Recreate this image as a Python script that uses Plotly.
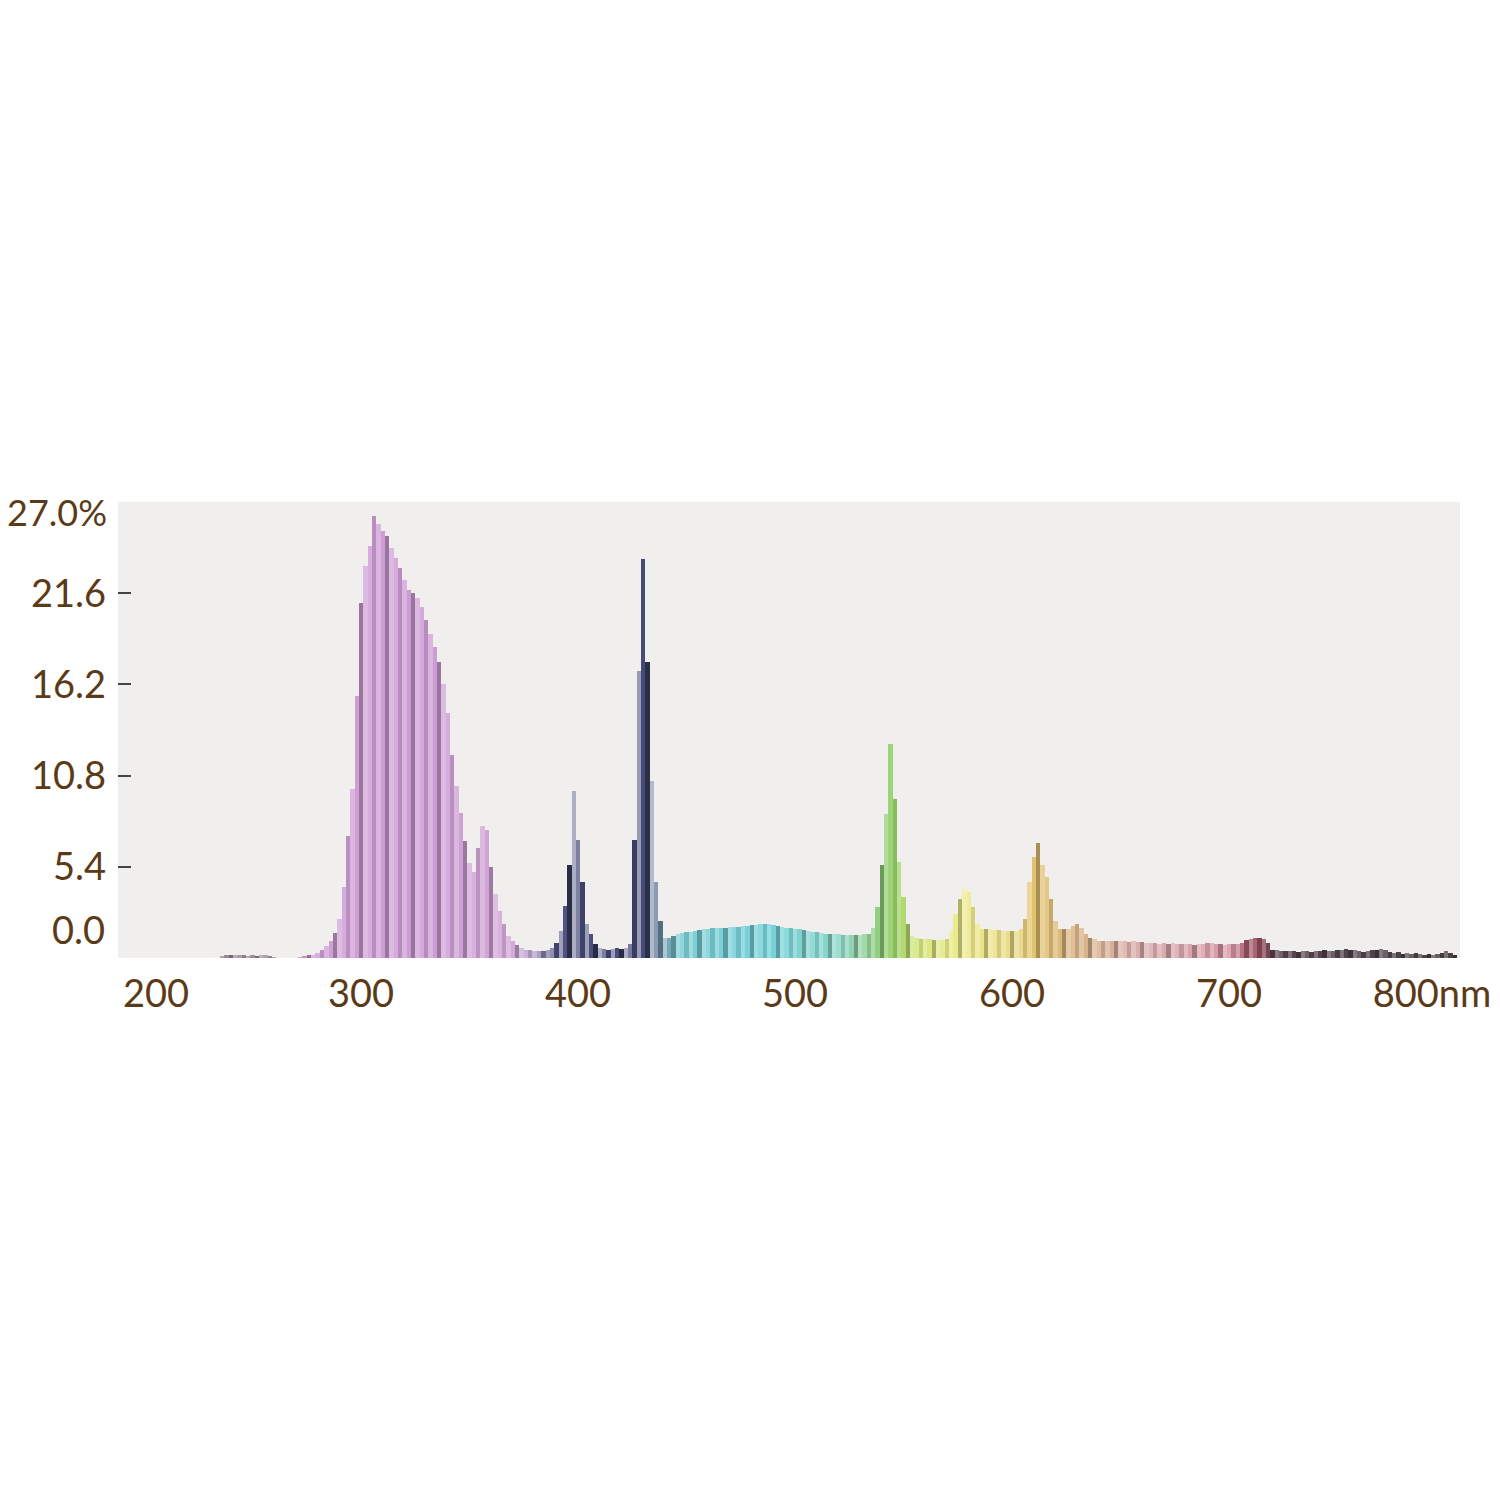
import plotly.graph_objects as go

# ---------------- data ----------------
wavelengths = list(range(190, 808, 2))  # nm, 2 nm bins

irradiance = [
    # 190-208
    0, 0, 0, 0, 0, 0, 0, 0, 0, 0,
    # 210-228
    0, 0, 0, 0, 0, 0, 0, 0, 0, 0,
    # 230-248
    0, 0, 0, 0.1, 0.15, 0.2, 0.15, 0.2, 0.15, 0.1,
    # 250-268
    0.15, 0.1, 0.15, 0.2, 0.1, 0.05, 0, 0, 0, 0,
    # 270-288
    0.0, 0.05, 0.1, 0.15, 0.2, 0.3, 0.45, 0.7, 1.0, 1.5,
    # 290-308
    2.3, 4.2, 7.2, 10.0, 15.5, 21.0, 23.2, 24.4, 26.2, 25.7,
    # 310-328
    25.3, 25.0, 24.3, 23.7, 23.1, 22.4, 21.8, 21.6, 21.3, 20.8,
    # 330-348
    20.0, 19.2, 18.4, 17.5, 16.2, 14.5, 12.0, 10.2, 8.6, 6.9,
    # 350-368
    5.6, 5.1, 6.5, 7.8, 7.6, 5.4, 3.8, 2.8, 2.0, 1.3,
    # 370-388
    1.0, 0.75, 0.6, 0.5, 0.45, 0.4, 0.4, 0.4, 0.45, 0.6,
    # 390-408
    0.9, 1.6, 3.1, 5.5, 9.9, 7.0, 4.5, 2.0, 1.4, 0.8,
    # 410-428
    0.6, 0.55, 0.5, 0.55, 0.6, 0.55, 0.6, 0.8, 7.0, 17.0,
    # 430-448
    23.6, 17.5, 10.5, 4.5, 2.2, 1.2, 1.2, 1.3, 1.4, 1.5,
    # 450-468
    1.55, 1.55, 1.6, 1.65, 1.7, 1.7, 1.75, 1.75, 1.8, 1.8,
    # 470-488
    1.85, 1.85, 1.85, 1.9, 1.9, 1.95, 1.95, 2.0, 2.0, 2.0,
    # 490-508
    1.95, 1.9, 1.85, 1.8, 1.75, 1.7, 1.7, 1.65, 1.6, 1.55,
    # 510-528
    1.55, 1.5, 1.45, 1.45, 1.4, 1.4, 1.35, 1.35, 1.35, 1.35,
    # 530-548
    1.35, 1.4, 1.4, 1.8, 3.0, 5.5, 8.5, 12.7, 9.4, 5.7,
    # 550-568
    3.6, 2.0, 1.3, 1.2, 1.1, 1.1, 1.1, 1.05, 1.05, 1.05,
    # 570-588
    1.1, 1.6, 2.6, 3.5, 4.1, 3.9, 3.0, 2.0, 1.7, 1.7,
    # 590-608
    1.7, 1.65, 1.65, 1.6, 1.6, 1.6, 1.6, 1.7, 2.3, 4.5,
    # 610-628
    6.0, 6.8, 5.5, 4.8, 3.5, 2.2, 1.7, 1.7, 1.7, 1.9,
    # 630-648
    2.0, 1.8, 1.4, 1.2, 1.1, 1.0, 1.0, 1.0, 1.0, 1.0,
    # 650-668
    1.0, 1.0, 0.95, 1.0, 0.95, 0.95, 0.9, 0.9, 0.9, 0.85,
    # 670-688
    0.9, 0.85, 0.9, 0.85, 0.85, 0.8, 0.8, 0.75, 0.8, 0.8,
    # 690-708
    0.9, 0.9, 0.8, 0.8, 0.75, 0.8, 0.8, 0.85, 0.9, 1.05,
    # 710-728
    1.15, 1.2, 1.2, 1.1, 0.9, 0.5, 0.45, 0.4, 0.4, 0.4,
    # 730-748
    0.4, 0.35, 0.4, 0.4, 0.35, 0.4, 0.4, 0.45, 0.4, 0.4,
    # 750-768
    0.45, 0.5, 0.55, 0.5, 0.45, 0.4, 0.35, 0.4, 0.45, 0.5,
    # 770-788
    0.55, 0.45, 0.35, 0.3, 0.35, 0.25, 0.3, 0.25, 0.3, 0.25,
    # 790-806
    0.2, 0.25, 0.2, 0.25, 0.3, 0.4, 0.3, 0.2, 0.0,
]

y_ticks = [5.4, 10.8, 16.2, 21.6]
y_tick_text = ["5.4", "10.8", "16.2", "21.6"]
x_ticks = [200, 300, 400, 500, 600, 700, 800]
x_tick_text = ["200", "300", "400", "500", "600", "700", "800nm"]
y_end_labels = ["0.0", "27.0%"]

# ---------------- styling helpers ----------------
stops = [
    (190, (138, 127, 136)), (268, (170, 140, 172)), (280, (208, 160, 214)),
    (330, (204, 155, 212)), (370, (212, 168, 216)), (382, (170, 160, 196)),
    (390, (80, 84, 130)), (430, (70, 74, 120)), (440, (110, 150, 170)),
    (446, (124, 207, 214)), (490, (118, 210, 216)), (520, (140, 214, 200)),
    (534, (150, 210, 150)), (544, (140, 204, 98)), (556, (214, 230, 126)),
    (575, (236, 236, 140)), (600, (233, 220, 134)), (612, (226, 191, 108)),
    (630, (217, 180, 135)), (660, (220, 174, 176)), (700, (217, 154, 168)),
    (712, (154, 74, 92)), (722, (90, 68, 80)), (810, (74, 64, 70)),
]


def base_color(w):
    for (w0, c0), (w1, c1) in zip(stops[:-1], stops[1:]):
        if w0 <= w <= w1:
            t = (w - w0) / (w1 - w0)
            return tuple(c0[k] + (c1[k] - c0[k]) * t for k in range(3))
    return stops[-1][1]


pattern = [0.0, -0.25, 0.3, 0.15, -0.1, 0.25]


def bar_color(i, w):
    r, g, b = base_color(w)
    s = pattern[i % len(pattern)]
    if 388 <= w <= 440:
        s *= 1.8
    if s < 0:
        f = 1 + s
        r, g, b = r * f, g * f, b * f
    else:
        r, g, b = r + (255 - r) * s, g + (255 - g) * s, b + (255 - b) * s
    return "rgb(%d,%d,%d)" % (max(0, min(255, r)), max(0, min(255, g)), max(0, min(255, b)))


colors = [bar_color(i, w) for i, w in enumerate(wavelengths)]

text_color = "#5b3a18"
font_family = "Lato, 'Open Sans', sans-serif"
font_size = 38

x_min, x_max = 188, 806.4
y_min, y_max = 0, 27

fig = go.Figure(
    go.Bar(
        x=wavelengths,
        y=irradiance,
        width=2,
        marker=dict(color=colors, line=dict(width=0)),
        hoverinfo="x+y",
    )
)

# Shift end x labels inward as in the reference
x_label_pos = list(x_ticks)
x_label_pos[0] = x_ticks[0] + 5.5
x_label_pos[-1] = x_ticks[-1] - 6.5

# page has an 8px body margin, so the figure is 1492 px and margins compensate
fig.update_layout(
    width=1492,
    height=1492,
    margin=dict(l=110, r=40, t=494, b=542, autoexpand=False),
    paper_bgcolor="white",
    plot_bgcolor="#f1efed",
    showlegend=False,
    bargap=0,
    font=dict(family=font_family, size=font_size, color=text_color),
    xaxis=dict(
        range=[x_min, x_max],
        tickmode="array",
        tickvals=x_label_pos,
        ticktext=x_tick_text,
        ticks="",
        showgrid=False,
        zeroline=False,
        showline=False,
        automargin=False,
        ticklabeloverflow="allow",
        ticklabelstandoff=10,
        tickfont=dict(family=font_family, size=font_size, color=text_color),
    ),
    yaxis=dict(
        range=[y_min, y_max],
        tickmode="array",
        tickvals=y_ticks,
        ticktext=y_tick_text,
        ticks="inside",
        ticklen=13,
        tickwidth=2,
        tickcolor="#444444",
        showgrid=False,
        zeroline=False,
        showline=False,
        automargin=False,
        ticklabeloverflow="allow",
        ticklabelstandoff=11,
        tickfont=dict(family=font_family, size=font_size, color=text_color),
    ),
)

# end labels on the y axis (no tick marks)
fig.add_annotation(
    xref="paper", yref="y", x=0, y=1.7, text=y_end_labels[0],
    showarrow=False, xanchor="right", yanchor="middle", xshift=-11,
    font=dict(family=font_family, size=font_size, color=text_color),
)
fig.add_annotation(
    xref="paper", yref="y", x=0, y=26.4, text=y_end_labels[1],
    showarrow=False, xanchor="right", yanchor="middle", xshift=-9,
    font=dict(family=font_family, size=36, color=text_color),
)

fig.write_html("out.html")
